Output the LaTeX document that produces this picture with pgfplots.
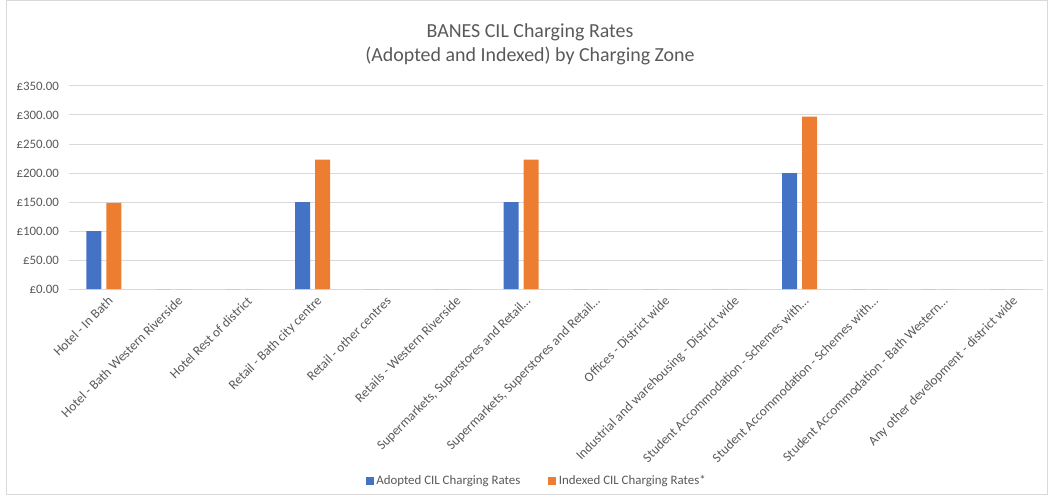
\documentclass[border=0pt]{standalone}
\usepackage{pgfplots}
\pgfplotsset{compat=1.18}
\usepackage{fontspec}
\setmainfont{Carlito}
\definecolor{txt}{HTML}{595959}
\definecolor{gridc}{HTML}{D9D9D9}
\definecolor{cblue}{HTML}{4472C4}
\definecolor{corange}{HTML}{ED7D31}
\begin{document}
\begin{tikzpicture}[x=1bp,y=1bp]
\path[use as bounding box] (0,0) rectangle (787.5,371.25);
\draw[gridc,line width=0.75bp] (4.5,0.75) rectangle (785.5,370.5);
\node[font=\fontsize{15}{18.5}\selectfont,text=txt,align=center] at (397.5,337.9) {BANES CIL Charging Rates\\(Adopted and Indexed) by Charging Zone};
\begin{axis}[
  at={(51.75bp,154.5bp)}, anchor=south west,
  scale only axis, width=730.5bp, height=152.25bp,
  xmin=-0.5, xmax=13.5, ymin=0, ymax=350,
  ybar=3.75bp, bar width=11.25bp,
  axis line style={draw=none},
  xmajorgrids=false, ymajorgrids=true, grid style={draw=gridc,line width=0.75bp},
  ytick={0,50,...,350},
  yticklabel={\pounds\pgfmathprintnumber[fixed,fixed zerofill,precision=2]{\tick}},
  /pgf/number format/assume math mode=true,
  xtick={0,...,13},
  xticklabels={Hotel - In Bath,Hotel - Bath Western Riverside,Hotel Rest of district,Retail - Bath city centre,Retail - other centres,Retails - Western Riverside,{Supermarkets, Superstores and Retail\dots},{Supermarkets, Superstores and Retail\dots},Offices - District wide,Industrial and warehousing - District wide,Student Accommodation - Schemes with\dots,Student Accommodation - Schemes with\dots,Student Accommodation - Bath Western\dots,Any other development - district wide},
  major tick length=0pt,
  tick label style={text=txt},
  yticklabel style={font=\fontsize{9.7}{11}\selectfont,xshift=-4bp},
  xticklabel style={font=\fontsize{10}{12}\selectfont,rotate=45,anchor=north east,inner sep=1pt,xshift=-0.5bp,yshift=-4bp},
  legend style={at={(0.4805,-0.946)},anchor=center,draw=none,legend columns=2,font=\fontsize{9.7}{11}\selectfont,text=txt,/tikz/every even column/.append style={column sep=19bp}},
  legend image code/.code={\fill[#1] (0,-3bp) rectangle (6bp,3bp);},
]
\addplot[fill=cblue,draw=none] coordinates {(0,100) (1,0) (2,0) (3,150) (4,0) (5,0) (6,150) (7,0) (8,0) (9,0) (10,200) (11,0) (12,0) (13,0)};
\addlegendentry{Adopted CIL Charging Rates}
\addplot[fill=corange,draw=none] coordinates {(0,148.6) (1,0) (2,0) (3,222.9) (4,0) (5,0) (6,222.9) (7,0) (8,0) (9,0) (10,297.2) (11,0) (12,0) (13,0)};
\addlegendentry{Indexed CIL Charging Rates*}
\end{axis}
\end{tikzpicture}
\end{document}
